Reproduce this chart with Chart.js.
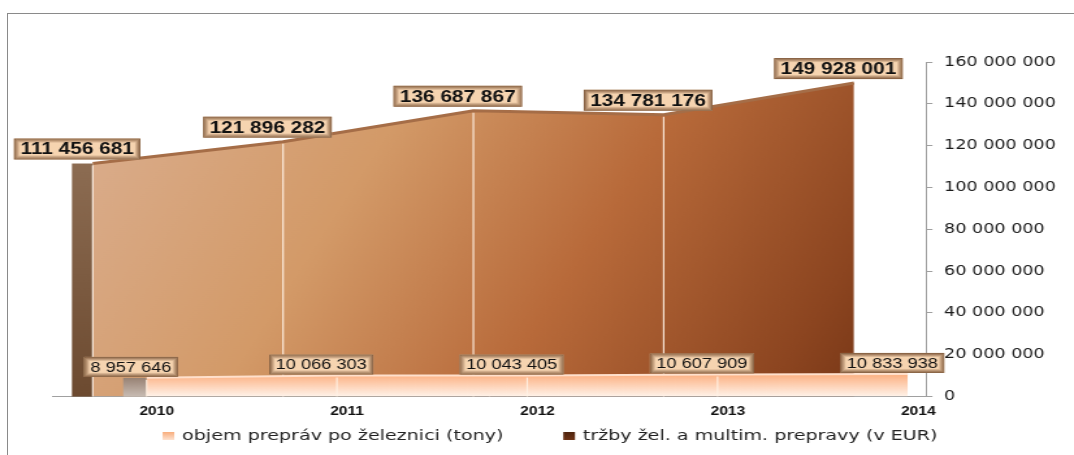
<!DOCTYPE html>
<html>
<head>
<meta charset="utf-8">
<script src="https://cdn.jsdelivr.net/npm/chart.js@4.4.0/dist/chart.umd.min.js"></script>
<style>
  html, body { margin: 0; padding: 0; background: #fff; overflow: hidden; }
  #frame { position: absolute; left: 7px; top: 13px; width: 1100px; height: 500px;
           border-left: 1px solid #8a8a8a; border-top: 1px solid #8a8a8a; }
  /* the original picture is stretched sideways, so the canvas is drawn narrow and widened */
  #chart { position: absolute; left: 0; top: 0; width: 1074px !important; height: 455px !important; }
</style>
</head>
<body>
<div id="frame"></div>
<canvas id="chart" width="826" height="455"></canvas>
<script>
var years = [2010, 2011, 2012, 2013, 2014];
var tonnage = [8957646, 10066303, 10043405, 10607909, 10833938];
var revenue = [111456681, 121896282, 136687867, 134781176, 149928001];
var yTicks = [0, 20000000, 40000000, 60000000, 80000000, 100000000, 120000000, 140000000, 160000000];
var seriesNames = ['objem prepráv po železnici (tony)', 'tržby žel. a multim. prepravy (v EUR)'];

function spaced(v) {
    return String(Math.round(v)).replace(/\B(?=(\d{3})+(?!\d))/g, ' ');
}

function backFill(c) {
    var area = c.chart.chartArea;
    if (!area) return '#c47a48';
    var g = c.chart.ctx.createLinearGradient(area.left, area.top, area.right, area.bottom);
    g.addColorStop(0, '#dcb296');
    g.addColorStop(0.35, '#d39a68');
    g.addColorStop(0.6, '#b86a3a');
    g.addColorStop(0.85, '#8c4520');
    g.addColorStop(1, '#6a2d10');
    return g;
}

function frontFill(c) {
    var area = c.chart.chartArea;
    if (!area) return '#fcb888';
    var y = c.chart.scales.y;
    var g = c.chart.ctx.createLinearGradient(0, y.getPixelForValue(11000000), 0, area.bottom);
    g.addColorStop(0, '#fcae7e');
    g.addColorStop(1, '#fff3ea');
    return g;
}

// side faces and segment edges of the 3D areas
var depthPlugin = {
    id: 'depth',
    beforeDatasetDraw: function(chart, args) {
        var pts = args.meta.data, ctx = chart.ctx;
        var bottom = chart.scales.y.getPixelForValue(0);
        var first = pts[0];
        var w = args.index === 0 ? 18 : 16;
        var g = ctx.createLinearGradient(0, first.y, 0, bottom);
        if (args.index === 0) {
            g.addColorStop(0, '#988274');
            g.addColorStop(1, '#c8bcb3');
        } else {
            g.addColorStop(0, '#8c6c52');
            g.addColorStop(1, '#6c4a30');
        }
        ctx.save();
        ctx.fillStyle = g;
        ctx.fillRect(first.x - w, first.y, w, bottom - first.y);
        ctx.restore();
    },
    afterDatasetDraw: function(chart, args) {
        var pts = args.meta.data, ctx = chart.ctx;
        var bottom = chart.scales.y.getPixelForValue(0);
        ctx.save();
        ctx.strokeStyle = 'rgba(255,242,230,0.9)';
        ctx.lineWidth = 1.2;
        for (var i = 0; i < pts.length - 1; i++) {
            ctx.beginPath();
            ctx.moveTo(pts[i].x, pts[i].y + 2);
            ctx.lineTo(pts[i].x, bottom);
            ctx.stroke();
        }
        ctx.restore();
    }
};

function drawTag(ctx, cx, bottom, text, font, h) {
    ctx.font = font;
    var w = ctx.measureText(text).width + 10;
    var x = cx - w / 2, y = bottom - h;
    ctx.fillStyle = '#f6d4b0';
    ctx.fillRect(x, y, w, h);
    for (var k = 0; k < 4; k++) {
        ctx.strokeStyle = 'rgba(105,66,38,' + (0.8 - k * 0.2) + ')';
        ctx.lineWidth = 1;
        ctx.strokeRect(x + k + 0.5, y + k + 0.5, w - 2 * k - 1, h - 2 * k - 1);
    }
    ctx.fillStyle = '#111';
    ctx.textAlign = 'center';
    ctx.textBaseline = 'middle';
    ctx.fillText(text, cx, y + h / 2 + 1);
}

var tagPlugin = {
    id: 'tags',
    afterDatasetsDraw: function(chart) {
        var ctx = chart.ctx;
        ctx.save();
        chart.getDatasetMeta(1).data.forEach(function(p, i) {
            drawTag(ctx, p.x - 12, p.y - 4, spaced(revenue[i]), 'bold 16px "Liberation Sans"', 21);
        });
        chart.getDatasetMeta(0).data.forEach(function(p, i) {
            drawTag(ctx, p.x - 12, p.y - 1, spaced(tonnage[i]), '14px "Liberation Sans"', 20);
        });
        ctx.restore();
    }
};

var legendPlugin = {
    id: 'bottomLegend',
    afterDraw: function(chart) {
        var ctx = chart.ctx;
        var box = 9, gap = 6, spacing = 46, cy = 436;
        ctx.save();
        ctx.font = '14.7px "DejaVu Sans"';
        var widths = seriesNames.map(function(n) { return ctx.measureText(n).width; });
        var total = widths[0] + widths[1] + 2 * (box + gap) + spacing;
        var x = chart.width / 2 + 10 - total / 2;
        var swatches = [['#f8ad7c', '#fde2d0'], ['#4e230d', '#6e3417']];
        for (var i = 0; i < 2; i++) {
            var g = ctx.createLinearGradient(0, cy - 4, 0, cy + 4);
            g.addColorStop(0, swatches[i][0]);
            g.addColorStop(1, swatches[i][1]);
            ctx.fillStyle = g;
            ctx.fillRect(x, cy - 4, box, 8);
            x += box + gap;
            ctx.fillStyle = '#222';
            ctx.textAlign = 'left';
            ctx.textBaseline = 'middle';
            ctx.fillText(seriesNames[i], x, cy);
            x += widths[i] + spacing;
        }
        ctx.restore();
    }
};

new Chart(document.getElementById('chart'), {
    type: 'line',
    data: {
        datasets: [{
            label: seriesNames[0],
            data: years.map(function(yr, i) { return {x: yr, y: tonnage[i]}; }),
            xAxisID: 'xf',
            yAxisID: 'y',
            fill: 'origin',
            backgroundColor: frontFill,
            borderColor: '#ffe0cc',
            borderWidth: 2,
            pointRadius: 0,
            tension: 0
        }, {
            label: seriesNames[1],
            data: years.map(function(yr, i) { return {x: yr, y: revenue[i]}; }),
            xAxisID: 'xb',
            yAxisID: 'y',
            fill: 'origin',
            backgroundColor: backFill,
            borderColor: '#a56d47',
            borderWidth: 3,
            pointRadius: 0,
            tension: 0
        }]
    },
    options: {
        responsive: false,
        animation: false,
        devicePixelRatio: 1,
        layout: { padding: { left: 40, right: 5, top: 62, bottom: 28 } },
        plugins: {
            legend: { display: false },
            tooltip: { enabled: false }
        },
        scales: {
            x: {
                type: 'linear',
                position: 'bottom',
                min: 2009.45,
                max: 2014.04,
                afterBuildTicks: function(s) { s.ticks = years.map(function(v) { return {value: v}; }); },
                grid: { drawOnChartArea: false, drawTicks: false },
                border: { color: '#a0a0a0' },
                ticks: {
                    padding: 8,
                    autoSkip: false,
                    maxRotation: 0,
                    color: '#111',
                    font: { family: 'Liberation Sans', size: 12, weight: 'bold' },
                    callback: function(v) { return String(v); }
                }
            },
            xf: { type: 'linear', display: false, min: 2009.503, max: 2014.095 },
            xb: { type: 'linear', display: false, min: 2009.786, max: 2014.378 },
            y: {
                position: 'right',
                min: 0,
                max: 160000000,
                afterBuildTicks: function(s) { s.ticks = yTicks.map(function(v) { return {value: v}; }); },
                grid: { drawOnChartArea: false, tickLength: 5, color: '#a0a0a0' },
                border: { color: '#a0a0a0' },
                ticks: {
                    padding: 9,
                    color: '#1a1a1a',
                    font: { family: 'DejaVu Sans', size: 13.5 },
                    callback: function(v) { return spaced(v); }
                }
            }
        }
    },
    plugins: [depthPlugin, tagPlugin, legendPlugin]
});
</script>
</body>
</html>
